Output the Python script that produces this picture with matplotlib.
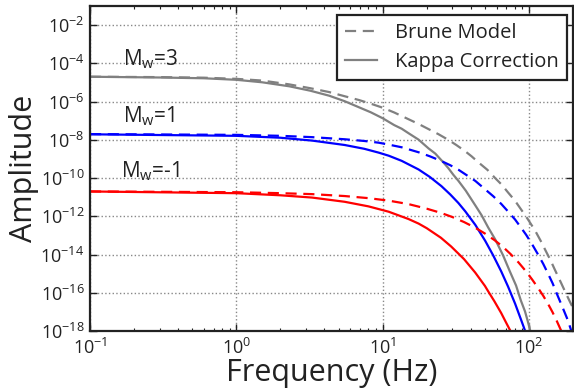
import numpy as np
import matplotlib
matplotlib.use("Agg")
import matplotlib.pyplot as plt
from matplotlib.ticker import LogLocator, NullFormatter, FixedLocator, FixedFormatter

plt.rcParams['font.family'] = ['Open Sans', 'DejaVu Sans']
plt.rcParams['mathtext.default'] = 'regular'

# ---- data (frequency in Hz, amplitude given as log10) ----
# Mw = 3
f_m3_brune = [0.1, 0.3, 0.6, 1.0, 1.5, 2.3, 3.2, 4.3, 5.5, 6.9, 8.3, 10, 12, 15, 17.6, 20.6, 24, 28.1, 32,
              36.7, 40.5, 45, 52, 58.7, 65, 71.9, 80, 88.3, 98, 110, 120, 130.6, 140, 150, 165, 178.6, 190, 200]
a_m3_brune = [-4.70, -4.72, -4.75, -4.81, -4.90, -5.10, -5.30, -5.50, -5.72, -5.92, -6.11, -6.32, -6.57, -6.92,
              -7.17, -7.44, -7.70, -8.00, -8.28, -8.60, -8.86, -9.17, -9.57, -10.00, -10.34, -10.75, -11.17,
              -11.64, -12.14, -12.74, -13.27, -13.83, -14.28, -14.78, -15.45, -16.02, -16.45, -16.80]
f_m3_kappa = [0.1, 0.3, 0.6, 1.0, 1.5, 2.3, 3.2, 4.3, 5.5, 6.9, 8.3, 10, 12, 13.5, 15, 17.6, 20.6, 22.9, 26,
              28.1, 30.5, 32.9, 37, 42.9, 47.5, 52.6, 59, 66.6, 74, 81.6, 88, 94, 98, 101.6, 106]
a_m3_kappa = [-4.70, -4.74, -4.78, -4.86, -4.99, -5.20, -5.43, -5.69, -5.98, -6.30, -6.56, -6.87, -7.23, -7.42,
              -7.65, -7.99, -8.45, -8.72, -9.18, -9.48, -9.84, -10.14, -10.66, -11.42, -11.95, -12.58, -13.23,
              -14.05, -14.88, -15.62, -16.40, -16.98, -17.47, -17.93, -18.50]
# Mw = 1
f_m1_brune = [0.1, 1.0, 2.0, 3.3, 5.5, 7.5, 9.4, 11, 13.5, 17.6, 21, 25.2, 29, 32.9, 36.7, 43, 50.2, 57, 64.6,
              72, 80.4, 88, 95.5, 105, 115, 125, 134.6, 145, 157, 170, 184, 193, 200]
a_m1_brune = [-7.70, -7.74, -7.79, -7.86, -7.97, -8.06, -8.15, -8.25, -8.39, -8.65, -8.86, -9.11, -9.33, -9.56,
              -9.80, -10.15, -10.59, -10.95, -11.35, -11.75, -12.17, -12.58, -12.96, -13.46, -13.98, -14.48,
              -14.98, -15.50, -16.15, -16.78, -17.42, -17.90, -18.25]
f_m1_kappa = [0.1, 1.0, 2.0, 3.3, 5.5, 7.5, 9.4, 11, 13.5, 17.6, 21, 25.2, 29, 32.9, 36.7, 43, 50.2, 57, 64.6,
              72, 80.4, 88, 94, 98]
a_m1_kappa = [-7.71, -7.79, -7.89, -8.04, -8.27, -8.47, -8.67, -8.83, -9.10, -9.55, -9.94, -10.42, -10.86,
              -11.30, -11.74, -12.45, -13.28, -14.05, -14.88, -15.68, -16.57, -17.38, -17.98, -18.40]
# Mw = -1
f_mm1_brune = [0.1, 1.0, 2.0, 3.3, 5.5, 8, 11, 15, 20, 25, 30, 36, 43, 50, 58, 66, 75, 85, 95, 105, 115,
               125, 135, 145, 155, 165, 172]
a_mm1_brune = [-10.70, -10.74, -10.79, -10.84, -10.94, -11.05, -11.18, -11.36, -11.60, -11.82, -12.04, -12.30,
               -12.60, -12.90, -13.24, -13.58, -13.98, -14.42, -14.86, -15.30, -15.73, -16.15, -16.58, -17.02,
               -17.48, -17.94, -18.30]
f_mm1_kappa = [0.1, 1.0, 2.0, 3.3, 5.5, 8, 11, 15, 17.6, 20, 25, 29.4, 36, 42.9, 50, 52.6, 58, 64.6, 70,
               74.3, 78]
a_mm1_kappa = [-10.70, -10.79, -10.90, -11.02, -11.24, -11.48, -11.76, -12.14, -12.38, -12.62, -13.12, -13.58,
               -14.24, -14.94, -15.64, -15.92, -16.44, -17.06, -17.58, -17.96, -18.35]

mag_labels = ['$M_w$=3', '$M_w$=1', '$M_w$=-1']
mag_label_f = [0.168, 0.168, 0.163]
mag_label_a = [-4.09, -7.07, -9.99]

ytick_exp = [-18, -16, -14, -12, -10, -8, -6, -4, -2]
xtick_exp = [-1, 0, 1, 2]

fig = plt.figure(figsize=(5.74, 3.89), dpi=100)
ax = fig.add_axes([0.1568, 0.149, 0.8415, 0.8356])
ax.set_xscale('log')
ax.set_yscale('log')

grey = '#808080'
lw = 1.6
dash = (5, 3)
ax.plot(f_m3_brune, np.power(10.0, a_m3_brune), color=grey, lw=lw, ls=(0, dash), label='Brune Model')
ax.plot(f_m3_kappa, np.power(10.0, a_m3_kappa), color=grey, lw=lw, label='Kappa Correction')
ax.plot(f_m1_brune, np.power(10.0, a_m1_brune), color='#0000ff', lw=lw, ls=(0, dash))
ax.plot(f_m1_kappa, np.power(10.0, a_m1_kappa), color='#0000ff', lw=lw)
ax.plot(f_mm1_brune, np.power(10.0, a_mm1_brune), color='#ff0000', lw=lw, ls=(0, dash))
ax.plot(f_mm1_kappa, np.power(10.0, a_mm1_kappa), color='#ff0000', lw=lw)

for t, fx, ay in zip(mag_labels, mag_label_f, mag_label_a):
    ax.text(fx, 10.0 ** ay, t, fontsize=15, va='baseline', ha='left', color='#222222')

ax.set_xlim(0.1, 200)
ax.set_ylim(1e-18, 1e-1)

ax.yaxis.set_major_locator(FixedLocator([10.0 ** e for e in ytick_exp]))
ax.yaxis.set_major_formatter(FixedFormatter(['$10^{%d}$' % e for e in ytick_exp]))
ax.yaxis.set_minor_locator(FixedLocator([]))
ax.xaxis.set_major_locator(FixedLocator([10.0 ** e for e in xtick_exp]))
ax.xaxis.set_major_formatter(FixedFormatter(['$10^{%d}$' % e for e in xtick_exp]))
ax.xaxis.set_minor_locator(LogLocator(base=10, subs=np.arange(2, 10)))
ax.xaxis.set_minor_formatter(NullFormatter())

ax.tick_params(which='both', direction='in', top=True, right=True, colors='#222222', labelsize=13)
ax.tick_params(which='major', length=5, width=1)
ax.tick_params(which='minor', length=2.5, width=0.8)
ax.tick_params(axis='x', pad=5)
ax.tick_params(axis='y', pad=4)

for s in ax.spines.values():
    s.set_linewidth(1.6)
    s.set_color('#222222')

ax.grid(True, which='major', ls=':', color='#888888', lw=1.0)

ax.set_xlabel('Frequency (Hz)', fontsize=22, color='#222222', labelpad=0)
ax.set_ylabel('Amplitude', fontsize=22, color='#222222', labelpad=1)

leg = ax.legend(loc='upper right', bbox_to_anchor=(0.988, 0.972), borderaxespad=0,
                fontsize=14.5, frameon=True, fancybox=False, framealpha=1,
                handlelength=1.6, handletextpad=0.9, borderpad=0.4, labelspacing=0.45)
leg.get_frame().set_edgecolor('#222222')
leg.get_frame().set_linewidth(1.6)
for txt in leg.get_texts():
    txt.set_color('#222222')

fig.savefig('out.png', dpi=100)
